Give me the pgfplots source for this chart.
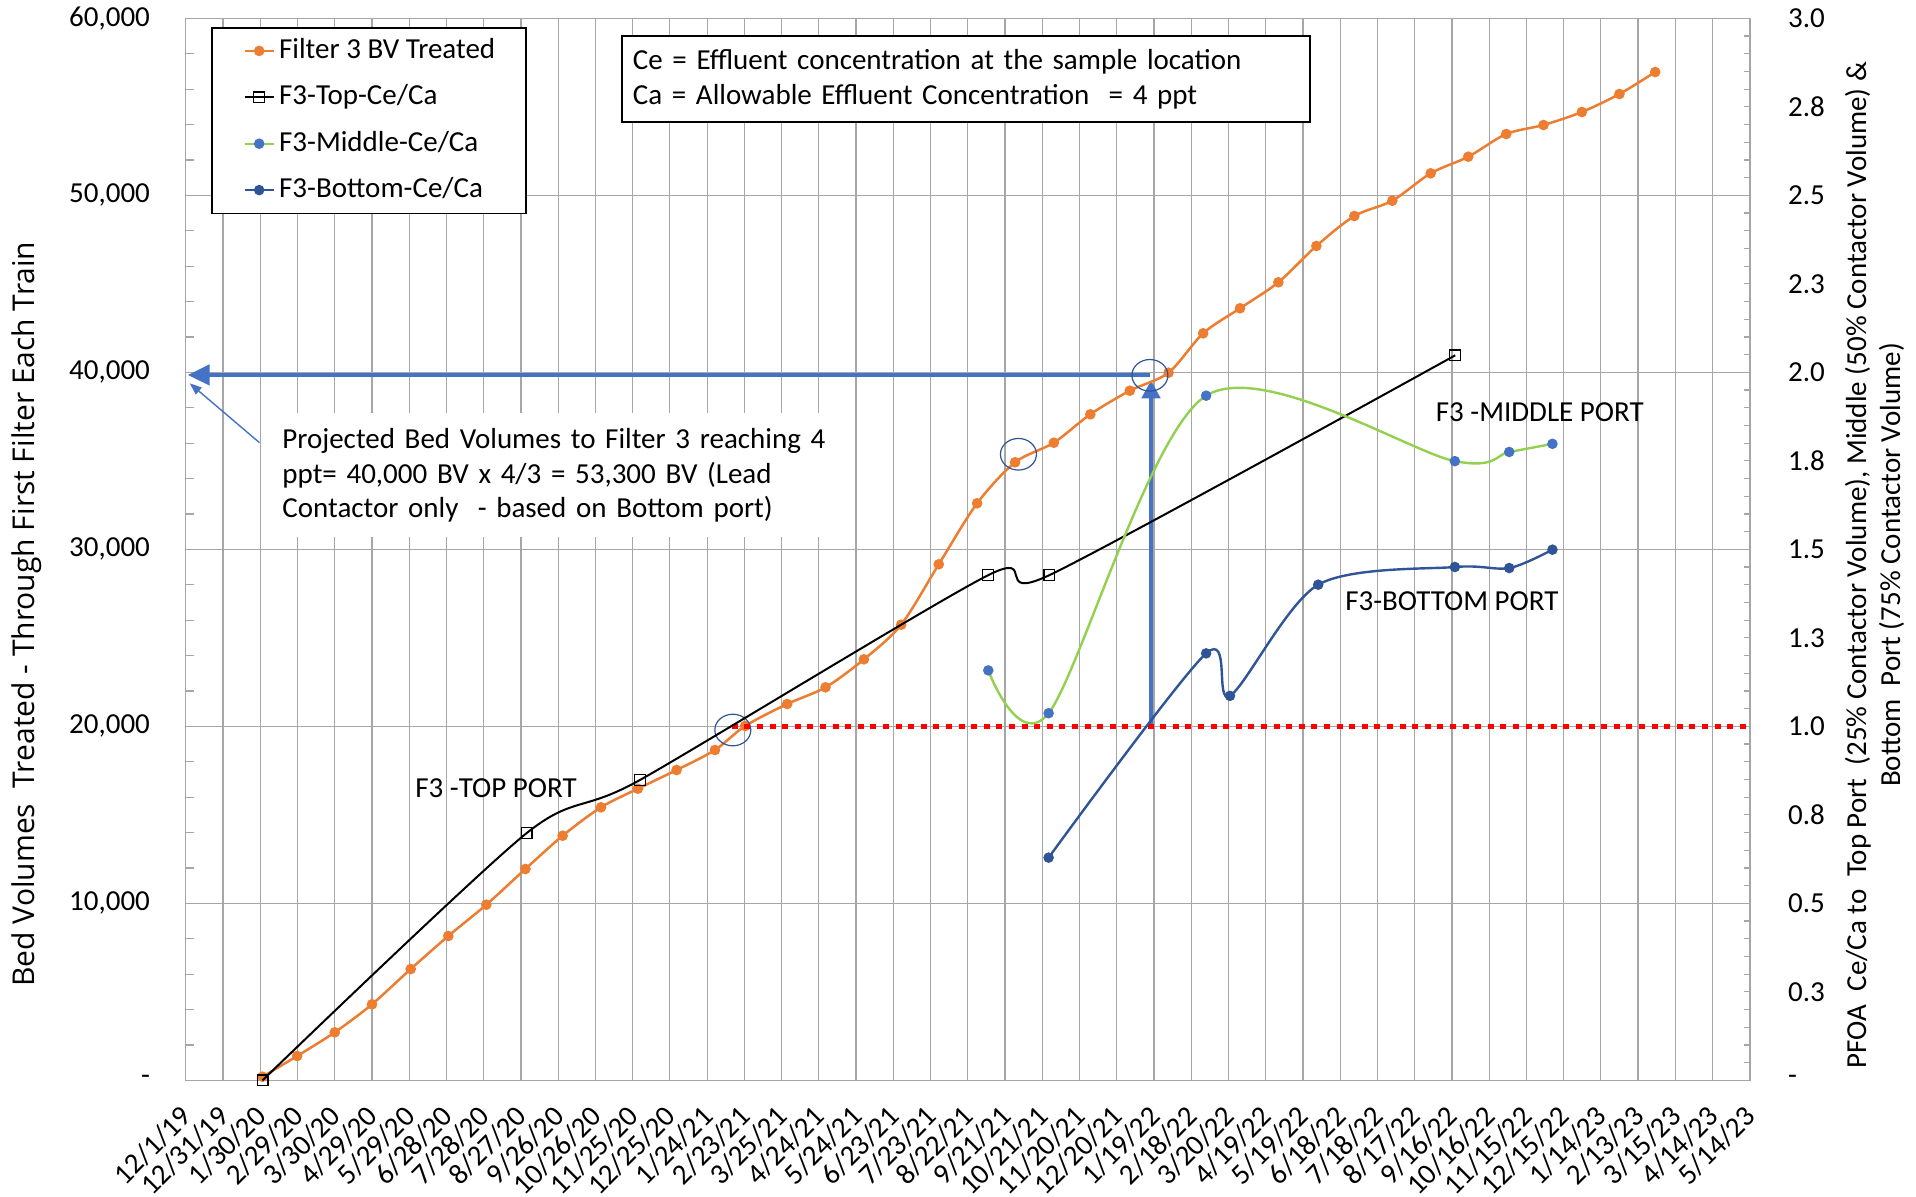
\documentclass[border=0pt]{standalone}
\usepackage{fontspec}
\setmainfont{Carlito}
\newfontfamily\osans{Open Sans}
\usepackage{pgfplots}
\pgfplotsset{compat=1.18}
\usetikzlibrary{arrows.meta}

\definecolor{orng}{HTML}{ED7D31}
\definecolor{grn}{HTML}{92D050}
\definecolor{blu}{HTML}{4472C4}
\definecolor{navy}{HTML}{2F5597}
\definecolor{gridc}{HTML}{A6A6A6}
\newcommand{\fs}{\fontsize{14.5}{17.4}\selectfont}

\begin{document}
\begin{tikzpicture}
\useasboundingbox (-92.9pt,-57.85pt) rectangle (865.1pt,540.15pt);
\begin{axis}[
  at={(0,0)}, anchor=south west,
  scale only axis, width=782pt, height=531pt,
  xmin=0, xmax=42, ymin=0, ymax=60000,
  clip mode=individual,
  axis line style={gridc, line width=0.7pt},
  xtick={0,...,42},
  xticklabels={12/1/19,12/31/19,1/30/20,2/29/20,3/30/20,4/29/20,5/29/20,6/28/20,7/28/20,8/27/20,9/26/20,10/26/20,11/25/20,12/25/20,1/24/21,2/23/21,3/25/21,4/24/21,5/24/21,6/23/21,7/23/21,8/22/21,9/21/21,10/21/21,11/20/21,12/20/21,1/19/22,2/18/22,3/20/22,4/19/22,5/19/22,6/18/22,7/18/22,8/17/22,9/16/22,10/16/22,11/15/22,12/15/22,1/14/23,2/13/23,3/15/23,4/14/23,5/14/23},
  xmajorgrids, ymajorgrids,
  grid style={gridc, line width=0.6pt},
  x tick style={draw=none},
  ytick={0,10000,20000,30000,40000,50000,60000},
  yticklabels={{-\hspace{6.5pt}},{10,000},{20,000},{30,000},{40,000},{50,000},{60,000}},
  minor y tick num=4,
  tick align=inside,
  ytick pos=left,
  y tick style={gridc, line width=0.6pt},
  minor tick length=4pt, major tick length=4pt,
  tick label style={font=\fs},
  yticklabel style={anchor=east, inner sep=0pt, xshift=-17.75pt},
  xticklabel style={xshift=0.5pt, yshift=-15.5pt, rotate=45, anchor=east, inner sep=0pt},
  ylabel={Bed Volumes\ \ Treated - Through First Filter Each Train},
  ylabel style={font=\osans\fontsize{15}{18}\selectfont, at={(axis description cs:-0.1015,0.439)}, anchor=center},
  legend style={at={(axis description cs:0.0164,0.9919)}, anchor=north west, draw=black, line width=0.8pt, fill=white,
    inner xsep=15.5pt, inner ysep=4.35pt, row sep=8.7pt, column sep=2pt, font=\fs,
    nodes={inner sep=0pt, text height=11pt, text depth=3.5pt}},
  legend cell align=left,
  legend image code/.code={\draw[mark repeat=2,mark phase=2,#1] plot coordinates {(0pt,0pt) (7.35pt,0pt) (14.7pt,0pt)};},
]
% annotation arrows
\addplot[blu, line width=2.3pt, -{Triangle[length=11pt,width=10pt]}, forget plot] coordinates {(25.88,39850) (0.05,39850)};
\addplot[blu, line width=2.3pt, -{Triangle[length=9pt,width=9pt]}, forget plot] coordinates {(25.92,20000) (25.92,39550)};
\addplot[blu, line width=0.7pt, -{Triangle[length=6pt,width=4.5pt]}, forget plot] coordinates {(1.98,36023) (0.105,39379)};

\addplot[orng, line width=1.25pt, smooth, mark=*, mark size=2pt, mark options={fill=orng, draw=orng}] coordinates {
(2.06,203) (2.99,1373) (4.0,2712) (5.0,4294) (6.04,6288) (7.05,8153) (8.07,9921) (9.12,11938)
(10.12,13819) (11.15,15424) (12.14,16475) (13.18,17531) (14.21,18661) (15.02,20017) (16.15,21260)
(17.18,22203) (18.21,23785) (19.21,25740) (20.22,29153) (21.25,32599) (22.27,34915) (23.31,36023)
(24.29,37627) (25.35,38960) (26.39,39977) (27.32,42203) (28.31,43616) (29.34,45085) (30.36,47136)
(31.38,48830) (32.4,49695) (33.43,51243) (34.44,52181) (35.46,53463) (36.46,53972) (37.49,54706)
(38.5,55723) (39.46,56966)};
\addlegendentry{Filter 3 BV Treated}
\addlegendimage{black, line width=1pt, mark=square, mark size=2.7pt, mark options={fill=white, line width=0.6pt}}
\addlegendentry{F3-Top-Ce/Ca}
\addlegendimage{grn, line width=1.2pt, mark=*, mark size=2pt, mark options={fill=blu, draw=blu}}
\addlegendentry{F3-Middle-Ce/Ca}
\addlegendimage{navy, line width=1.2pt, mark=*, mark size=2pt, mark options={fill=navy, draw=navy}}
\addlegendentry{F3-Bottom-Ce/Ca}

\draw[navy, line width=0.6pt] (axis cs:14.69,19790) ellipse [x radius=9pt, y radius=7.9pt];
\draw[navy, line width=0.6pt] (axis cs:22.36,35370) ellipse [x radius=9pt, y radius=7.9pt];
\draw[navy, line width=0.6pt] (axis cs:25.89,39830) ellipse [x radius=9pt, y radius=7.9pt];

\node[draw=black, line width=0.8pt, fill=white, anchor=north west, inner xsep=5.5pt, inner ysep=0pt,
  text width=333pt, minimum height=42.8pt, align=left, font=\fontsize{14.5}{17.6}\selectfont]
  at (rel axis cs:0.2783,0.9839) {Ce = Effluent concentration at the sample location\\Ca = Allowable Effluent Concentration\ \ = 4 ppt};
\node[fill=white, anchor=north west, inner xsep=5.5pt, inner ysep=0pt,
  text width=272pt, minimum height=62pt, align=left, font=\fontsize{14.5}{17.25}\selectfont]
  at (rel axis cs:0.0545,0.6283) {Projected Bed Volumes to Filter 3 reaching 4\\ppt= 40,000 BV x 4/3 = 53,300 BV (Lead\\Contactor only\ \ - based on Bottom port)};
\node[font=\fs] at (axis cs:8.33,16514) {F3 -TOP PORT};
\node[font=\fs] at (axis cs:36.36,37757) {F3 -MIDDLE PORT};
\node[font=\fs] at (axis cs:34.0,27079) {F3-BOTTOM PORT};
\end{axis}

\begin{axis}[
  at={(0,0)}, anchor=south west,
  scale only axis, width=782pt, height=531pt,
  xmin=0, xmax=42, ymin=0, ymax=3,
  clip mode=individual,
  hide x axis,
  axis y line*=right,
  axis line style={gridc, line width=0.7pt},
  ytick={0,0.25,0.5,0.75,1,1.25,1.5,1.75,2,2.25,2.5,2.75,3},
  yticklabels={-,0.3,0.5,0.8,1.0,1.3,1.5,1.8,2.0,2.3,2.5,2.8,3.0},
  minor y tick num=4,
  tick align=inside,
  y tick style={gridc, line width=0.6pt},
  major tick length=3pt, minor tick length=3pt,
  yticklabel style={font=\fs, anchor=west, inner sep=0pt, xshift=19pt},
  ylabel={PFOA\ \ Ce/Ca to\ \ Top Port\ \ (25\% Contactor Volume), Middle (50\% Contactor Volume) \&\\Bottom\ \ Port (75\% Contactor Volume)},
  ylabel style={font=\fontsize{14.5}{17}\selectfont, align=center, at={(axis description cs:1.0798,0.4852)}, anchor=center},
]
\addplot[red, line width=2.6pt, dash pattern=on 3pt off 3.3pt] coordinates {(14.66,1) (42,1)};
\addplot[black, line width=1pt, smooth, tension=0.45, mark=square, mark size=2.7pt, mark options={fill=white, line width=0.6pt}] coordinates {
(2.06,0) (9.15,0.698) (12.19,0.848) (21.55,1.427) (23.19,1.427) (34.09,2.048)};
\addplot[grn, line width=1.2pt, smooth, mark=*, mark size=2pt, mark options={fill=blu, draw=blu}] coordinates {
(21.55,1.158) (23.17,1.037) (27.4,1.934) (34.08,1.749) (35.54,1.775) (36.7,1.798)};
\addplot[navy, line width=1.2pt, smooth, mark=*, mark size=2pt, mark options={fill=navy, draw=navy}] coordinates {
(23.17,0.629) (27.4,1.206) (28.04,1.086) (30.41,1.4) (34.08,1.45) (35.54,1.447) (36.7,1.499)};
\end{axis}
\end{tikzpicture}
\end{document}
